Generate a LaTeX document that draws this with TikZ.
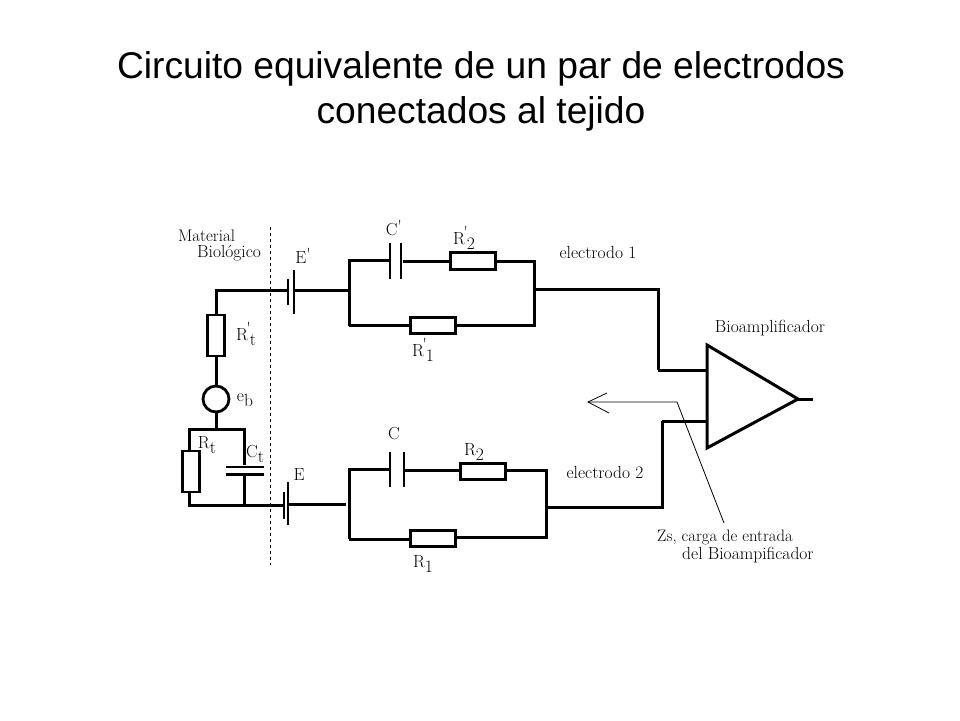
\documentclass[tikz,border=0pt]{standalone}
\usepackage{fontspec}
\newfontfamily\titlefont{Liberation Sans}
\newcommand{\labp}[2]{#1\kern-1.5pt\raisebox{6pt}{\textquotesingle}\kern-1pt\raisebox{-5pt}{#2}}
\newcommand{\labs}[2]{#1\raisebox{-5pt}{#2}}
\begin{document}
\begin{tikzpicture}[x=1pt,y=-1pt]
\tikzset{wire/.style={line width=3pt},
  thinwire/.style={line width=0.8pt},
  resist/.style={draw, line width=2.8pt, fill=white, inner sep=0pt, minimum width=45pt, minimum height=16.5pt},
  resistv/.style={draw, line width=2.8pt, fill=white, inner sep=0pt, minimum width=17.5pt, minimum height=41pt},
  plate/.style={fill=black, inner sep=0pt, minimum width=2.8pt},
  hplate/.style={fill=black, inner sep=0pt, minimum height=2.8pt},
  etiq/.style={inner sep=0pt, font=\fontsize{17.5}{18}\selectfont},
  etiqz/.style={inner sep=0pt, font=\fontsize{16.6}{18}\selectfont},
  etiqm/.style={inner sep=0pt, font=\fontsize{16.8}{18}\selectfont}}
\useasboundingbox (0,0) rectangle (960,720);
\node[font=\titlefont\fontsize{37.2}{45}\selectfont, align=center, inner sep=0pt] (Titre) at (481,91) {Circuito equivalente de un par de electrodos\\conectados al tejido};
\coordinate (D1) at (270,227);
\coordinate (D2) at (270,565);
\draw[thinwire, dashed] (D1) -- (D2);
% electrodo 1
\node[resistv] (Rtp) at (216,335.5) {};
\node[plate, minimum height=26pt] (Ep1) at (288,292) {};
\node[plate, minimum height=44pt] (Ep2) at (294,291.5) {};
\node[plate, minimum height=36pt] (Cp1) at (390,261) {};
\node[plate, minimum height=36pt] (Cp2) at (401,261) {};
\node[resist] (R2p) at (473,261) {};
\node[resist] (R1p) at (433,325.5) {};
\coordinate (A1) at (216,290);
\coordinate (A2) at (349,290);
\coordinate (A3) at (349,260);
\coordinate (A4) at (349,325.5);
\coordinate (A5) at (534,260);
\coordinate (A6) at (534,325.5);
\coordinate (A7) at (534,289);
\coordinate (A8) at (658,289);
\coordinate (A9) at (658,370);
\draw[wire] (Rtp.north) -- (A1) -- (A1 -| Ep1);
\draw[wire] (Ep2 |- A2) -- (A2);
\draw[wire] (A4) -- (A3) -- (A3 -| Cp1);
\draw[wire] (Cp2) -- (R2p);
\draw[wire] (R2p) -- (R2p -| A5) -- (A6) -- (R1p);
\draw[wire] (R1p) -- (A4);
\draw[wire] (A7) -- (A8) -- (A9);
% tejido
\node[draw, circle, line width=2.8pt, minimum size=26pt, inner sep=0pt] (Eb) at (216,399) {};
\node[resistv] (Rt) at (191,471.5) {};
\node[hplate, minimum width=38pt] (Ct1) at (245,467) {};
\node[hplate, minimum width=38pt] (Ct2) at (245,474.5) {};
\coordinate (B1) at (216,429);
\coordinate (B2) at (189,429);
\coordinate (B3) at (244,429);
\coordinate (B4) at (189,505);
\coordinate (B5) at (244,505);
\draw[wire] (Rtp) -- (Eb);
\draw[wire] (Eb) -- (B1);
\draw[wire] (Rt.north -| B2) -- (B2) -- (B3) -- (Ct1.north -| B3);
\draw[wire] (Rt.south -| B4) -- (B4) -- (B5);
\draw[wire] (Ct2.south -| B5) -- (B5);
% electrodo 2
\node[plate, minimum height=27pt] (E1) at (284,505.5) {};
\node[plate, minimum height=43pt] (E2) at (288,503.5) {};
\node[plate, minimum height=35pt] (C1) at (390,469.5) {};
\node[plate, minimum height=35pt] (C2) at (404,469.5) {};
\node[resist] (R2) at (483,471.5) {};
\node[resist] (R1) at (433,538.5) {};
\coordinate (F1) at (346,504);
\coordinate (F2) at (349,469);
\coordinate (F3) at (349,539);
\coordinate (F4) at (546,470);
\coordinate (F5) at (546,537);
\coordinate (F6) at (546,507);
\coordinate (F7) at (662,507);
\coordinate (F8) at (662,421);
\draw[wire] (B5) -- (B5 -| E1);
\draw[wire] (E2 |- F1) -- (F1);
\draw[wire] (F3) -- (F2) -- (F2 -| C1);
\draw[wire] (C2 |- F4) -- (R2.west |- F4);
\draw[wire] (R2.east |- F4) -- (F4) -- (F5) -- (R1.east |- F5);
\draw[wire] (F3) -- (R1.west |- F3);
\draw[wire] (F6) -- (F7) -- (F8);
% Bioamplificador
\coordinate (P1) at (707,345);
\coordinate (P2) at (707,448);
\coordinate (P3) at (798,399);
\coordinate (P4) at (813,399);
\draw[wire, line join=miter] (P1) -- (P2) -- (P3) -- cycle;
\draw[wire] (P3) -- (P4);
\draw[wire] (A9) -- (A9 -| P1);
\draw[wire] (F8) -- (F8 -| P1);
% carga
\coordinate (Z1) at (677,402);
\coordinate (Z2) at (588,402);
\coordinate (Z3) at (607,393);
\coordinate (Z4) at (609,413);
\coordinate (Z5) at (724,523);
\draw[thinwire] (Z5) -- (Z1) -- (Z2);
\draw[thinwire] (Z3) -- (Z2) -- (Z4);
% textos
\node[etiqm, anchor=west] (LMat) at (178,236) {Material};
\node[etiq, anchor=west] (LBio) at (197,253) {Biológico};
\node[etiq] (LEp) at (303,256) {E\raisebox{3pt}{\textquotesingle}};
\node[etiq] (LCp) at (394,228) {C\raisebox{3pt}{\textquotesingle}};
\node[etiq] (LR2p) at (464,238) {\labp{R}{2}};
\node[etiq] (LR1p) at (423,350) {\labp{R}{1}};
\node[etiq] (LRtp) at (246,334) {\labp{R}{t}};
\node[etiq] (Leb) at (245,400) {\labs{e}{b}};
\node[etiq] (LRt) at (207,445) {\labs{R}{t}};
\node[etiq] (LCt) at (255,454) {\labs{C}{t}};
\node[etiq] (LE) at (299,475) {E};
\node[etiq] (LC) at (394,434) {C};
\node[etiq] (LR2) at (474,452) {\labs{R}{2}};
\node[etiq] (LR1) at (423,564) {\labs{R}{1}};
\node[etiq] (Le1) at (598,252) {electrodo 1};
\node[etiq] (Le2) at (605,472) {electrodo 2};
\node[etiq] (LAmp) at (770,328) {Bioamplificador};
\node[etiqz, anchor=west] (LZs) at (657,537) {Zs, carga de entrada};
\node[etiq, anchor=west] (LDel) at (682,555) {del Bioampificador};
\end{tikzpicture}
\end{document}
